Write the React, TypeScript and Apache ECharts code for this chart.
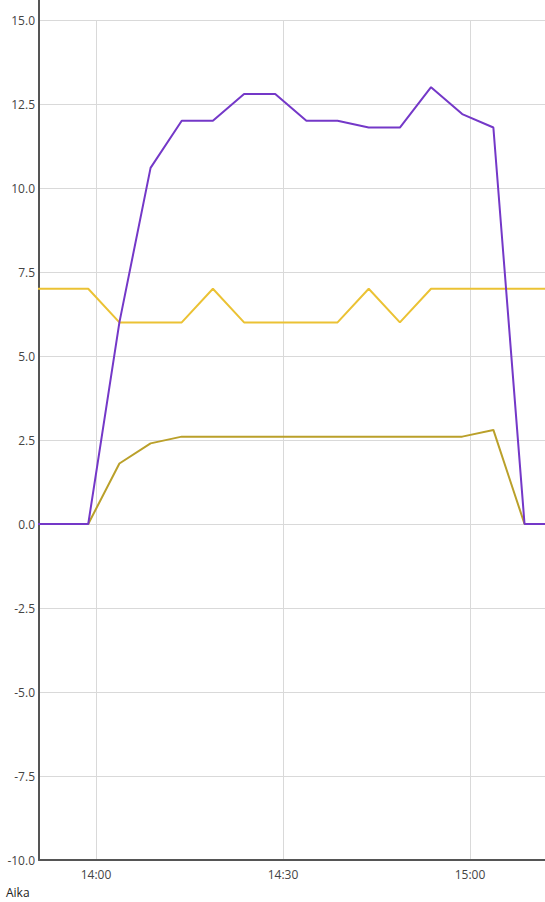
import React, { useEffect, useRef } from "react";
import * as echarts from "echarts";

const times = [
  "13:48:45", "13:53:45", "13:58:45", "14:03:45", "14:08:45", "14:13:45", "14:18:45",
  "14:23:45", "14:28:45", "14:33:45", "14:38:45", "14:43:45", "14:48:45", "14:53:45",
  "14:58:45", "15:03:45", "15:08:45", "15:13:45",
];
const purpleValues = [0, 0, 0, 6.0, 10.6, 12.0, 12.0, 12.8, 12.8, 12.0, 12.0, 11.8, 11.8, 13.0, 12.2, 11.8, 0, 0];
const yellowValues = [7, 7, 7, 6, 6, 6, 7, 6, 6, 6, 6, 7, 6, 7, 7, 7, 7, 7];
const oliveValues = [0, 0, 0, 1.8, 2.4, 2.6, 2.6, 2.6, 2.6, 2.6, 2.6, 2.6, 2.6, 2.6, 2.6, 2.8, 0, 0];
const xTickLabels = ["14:00", "14:30", "15:00"];
const xMin = "13:50:51";
const xMax = "15:12:02";
const yMin = -10;
const yMax = 15;
const yInterval = 2.5;
const xName = "Aika";

// minutes since midnight
const toMin = (t: string) => {
  const [h, m, s] = t.split(":").map(Number);
  return h * 60 + m + (s || 0) / 60;
};
const pad = (n: number) => (n < 10 ? "0" + n : "" + n);

export default function App() {
  const ref = useRef<HTMLDivElement>(null);
  useEffect(() => {
    if (!ref.current) return;
    const chart = echarts.init(ref.current, undefined, { renderer: "svg" });
    const mk = (vals: number[]) => times.map((t, i) => [toMin(t), vals[i]]);
    const tickVals = xTickLabels.map((t) => toMin(t));
    const font = "'Open Sans', sans-serif";
    chart.setOption({
      animation: false,
      grid: { left: 39, right: 0, top: 20, bottom: 42, containLabel: false },
      xAxis: {
        type: "value",
        min: toMin(xMin),
        max: toMin(xMax),
        axisLine: { show: true, onZero: false, lineStyle: { color: "#555", width: 2 } },
        axisTick: { show: false, customValues: tickVals },
        axisLabel: {
          customValues: tickVals,
          color: "#444",
          fontSize: 12,
          fontFamily: font,
          margin: 8,
          formatter: (v: number) => {
            const h = Math.floor(v / 60);
            const m = Math.round(v - h * 60);
            return pad(h) + ":" + pad(m);
          },
        },
        splitLine: { show: true, lineStyle: { color: "#d9d9d9", width: 1 } },
      },
      yAxis: {
        type: "value",
        min: yMin,
        max: yMax,
        interval: yInterval,
        axisLine: { show: true, onZero: false, lineStyle: { color: "#555", width: 2 } },
        axisTick: { show: false },
        axisLabel: {
          color: "#444",
          fontSize: 12,
          fontFamily: font,
          margin: 4,
          formatter: (v: number) => v.toFixed(1),
        },
        splitLine: { show: true, lineStyle: { color: "#d9d9d9", width: 1 } },
      },
      graphic: [
        {
          type: "line",
          shape: { x1: 39, y1: 0, x2: 39, y2: 21 },
          style: { stroke: "#555", lineWidth: 2 },
        },
        {
          type: "text",
          left: 6,
          top: 886,
          style: { text: xName, fill: "#222", fontSize: 12, fontFamily: font },
        },
      ],
      series: [
        { type: "line", data: mk(yellowValues), showSymbol: false, lineStyle: { color: "#ebc234", width: 2 }, itemStyle: { color: "#ebc234" } },
        { type: "line", data: mk(oliveValues), showSymbol: false, lineStyle: { color: "#baa02a", width: 2 }, itemStyle: { color: "#baa02a" } },
        { type: "line", data: mk(purpleValues), showSymbol: false, lineStyle: { color: "#7438c8", width: 2 }, itemStyle: { color: "#7438c8" } },
      ],
    });
    return () => chart.dispose();
  }, []);
  return <div ref={ref} style={{ width: 545, height: 902, position: "absolute", left: 0, top: 0 }} />;
}
